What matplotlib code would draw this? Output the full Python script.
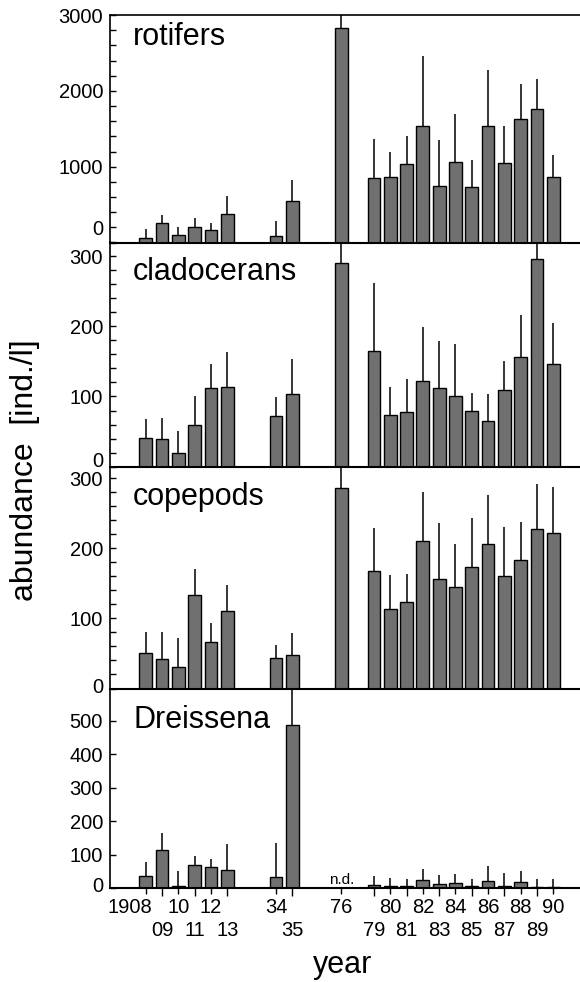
import numpy as np
import matplotlib
matplotlib.use("Agg")
import matplotlib.pyplot as plt
from matplotlib.ticker import MultipleLocator, FixedLocator, FixedFormatter
from matplotlib.transforms import ScaledTranslation

plt.rcParams['font.family'] = ['Liberation Sans', 'DejaVu Sans']

# ---------------- data ----------------
years = ['1908', '09', '10', '11', '12', '13', '34', '35', '76',
         '79', '80', '81', '82', '83', '84', '85', '86', '87', '88', '89', '90']

rotifers = [61, 261, 96, 200, 170, 374, 83, 548, 2822,
            848, 865, 1030, 1535, 743, 1061, 735, 1535, 1043, 1630, 1757, 870]
rotifers_upper = [183, 357, 204, 326, 257, 609, 278, 822, 3000,
                  1365, 1196, 1400, 2465, 1352, 1691, 1087, 2278, 1535, 2087, 2152, 1148]

cladocerans = [41, 39, 20, 60, 112, 113, 72, 104, 290,
               165, 73, 78, 122, 112, 100, 80, 65, 109, 156, 296, 146]
cladocerans_upper = [68, 70, 51, 101, 147, 163, 99, 153, 360,
                     262, 113, 125, 199, 179, 175, 105, 103, 150, 217, 340, 205]

copepods = [51, 42, 30, 134, 66, 110, 43, 48, 287,
            168, 113, 123, 210, 156, 145, 174, 207, 160, 184, 228, 222]
copepods_upper = [81, 80, 72, 171, 94, 148, 62, 79, 340,
                  229, 162, 164, 280, 236, 206, 243, 276, 231, 238, 292, 288]

dreissena = [37, 114, 7, 68, 62, 55, 34, 488, np.nan,
             10, 5, 5, 24, 12, 15, 7, 21, 7, 17, 3, 3]
dreissena_upper = [78, 164, 50, 95, 87, 131, 134, 640, np.nan,
                   37, 30, 27, 57, 40, 42, 28, 65, 45, 50, 28, 28]

panel_names = ['rotifers', 'cladocerans', 'copepods', 'Dreissena']
panel_values = [rotifers, cladocerans, copepods, dreissena]
panel_upper = [rotifers_upper, cladocerans_upper, copepods_upper, dreissena_upper]
panel_ylim = [3000, 320, 317, 597]
panel_minor = [200, 20, 20, None]
panel_yticks = [[0, 1000, 2000, 3000], [0, 100, 200, 300], [0, 100, 200, 300],
                [0, 100, 200, 300, 400, 500]]
zero_label_shift = [15, 7, 3, 4]   # px upward shift of the "0" labels

# gaps (in slots) after certain years
gap_after = {'13': 3, '35': 3, '76': 2}
pos = []
p = 0
for y in years:
    pos.append(p)
    p += gap_after.get(y, 1)
pos = np.array(pos, dtype=float)

# ---------------- layout ----------------
W, H = 580, 982
fig = plt.figure(figsize=(W / 100, H / 100), dpi=100)
edges = [15, 242.5, 466.5, 688.5, 888]
left_px, right_px = 110, 580
title_drop = [30, 37.5, 38.5, 39.5]

bar_color = '#707070'
for i in range(4):
    top, bot = edges[i], edges[i + 1]
    ax = fig.add_axes([left_px / W, 1 - bot / H, (right_px - left_px) / W, (bot - top) / H])
    ax.set_zorder(10 - i)
    ax.patch.set_visible(False)

    vals = np.array(panel_values[i], dtype=float)
    up = np.array(panel_upper[i], dtype=float)
    mask = ~np.isnan(vals)
    ax.vlines(pos[mask], vals[mask], up[mask], color='black', lw=1.1,
              zorder=1, clip_on=(i == 0))
    ax.bar(pos[mask], vals[mask], width=0.78, color=bar_color,
           edgecolor='black', linewidth=1.0, zorder=2)

    ax.set_xlim(-2.19, 26.64)
    ax.set_ylim(0, panel_ylim[i])

    ax.spines['right'].set_visible(False)
    if i > 0:
        ax.spines['top'].set_visible(False)
    ax.spines['left'].set_linewidth(1.2)
    ax.spines['bottom'].set_linewidth(1.5)
    ax.spines['top'].set_linewidth(1.2)

    ax.yaxis.set_major_locator(FixedLocator(panel_yticks[i]))
    if panel_minor[i]:
        ax.yaxis.set_minor_locator(MultipleLocator(panel_minor[i]))
    ax.tick_params(axis='y', which='both', direction='in', length=4, width=1.0,
                   labelsize=14.5, pad=5)

    ax.text((133 - left_px) / (right_px - left_px),
            1 - title_drop[i] / (bot - top),
            panel_names[i], transform=ax.transAxes, fontsize=22,
            ha='left', va='baseline')

    if i < 3:
        ax.tick_params(axis='x', which='both', bottom=False, labelbottom=False)
    else:
        row1 = [k for k, y in enumerate(years) if int(y) % 2 == 0]
        row2 = [k for k, y in enumerate(years) if int(y) % 2 == 1]
        ax.xaxis.set_major_locator(FixedLocator(pos[row1]))
        ax.xaxis.set_major_formatter(FixedFormatter([years[k] for k in row1]))
        ax.xaxis.set_minor_locator(FixedLocator(pos[row2]))
        ax.xaxis.set_minor_formatter(FixedFormatter([years[k] for k in row2]))
        ax.tick_params(axis='x', which='major', direction='out', length=4, width=1.0,
                       labelsize=14.5, pad=3)
        ax.tick_params(axis='x', which='minor', direction='out', length=6, width=1.0,
                       labelsize=14.5, pad=18)
        lab0 = ax.get_xticklabels()[0]
        lab0.set_horizontalalignment('right')
        lab0.set_transform(lab0.get_transform() +
                           ScaledTranslation(7 / 100, 0, fig.dpi_scale_trans))
        i76 = years.index('76')
        ax.text(pos[i76], 3, 'n.d.', ha='center', va='bottom', fontsize=11)

    lz = ax.get_yticklabels()[0]
    lz.set_transform(lz.get_transform() +
                     ScaledTranslation(0, zero_label_shift[i] / 100, fig.dpi_scale_trans))

fig.text(25 / W, 1 - 470 / H, 'abundance  [ind./l]', rotation=90,
         ha='center', va='center', fontsize=23)
fig.text(343 / W, 1 - 973 / H, 'year', ha='center', va='baseline', fontsize=22)

fig.savefig('out.png', dpi=100)
